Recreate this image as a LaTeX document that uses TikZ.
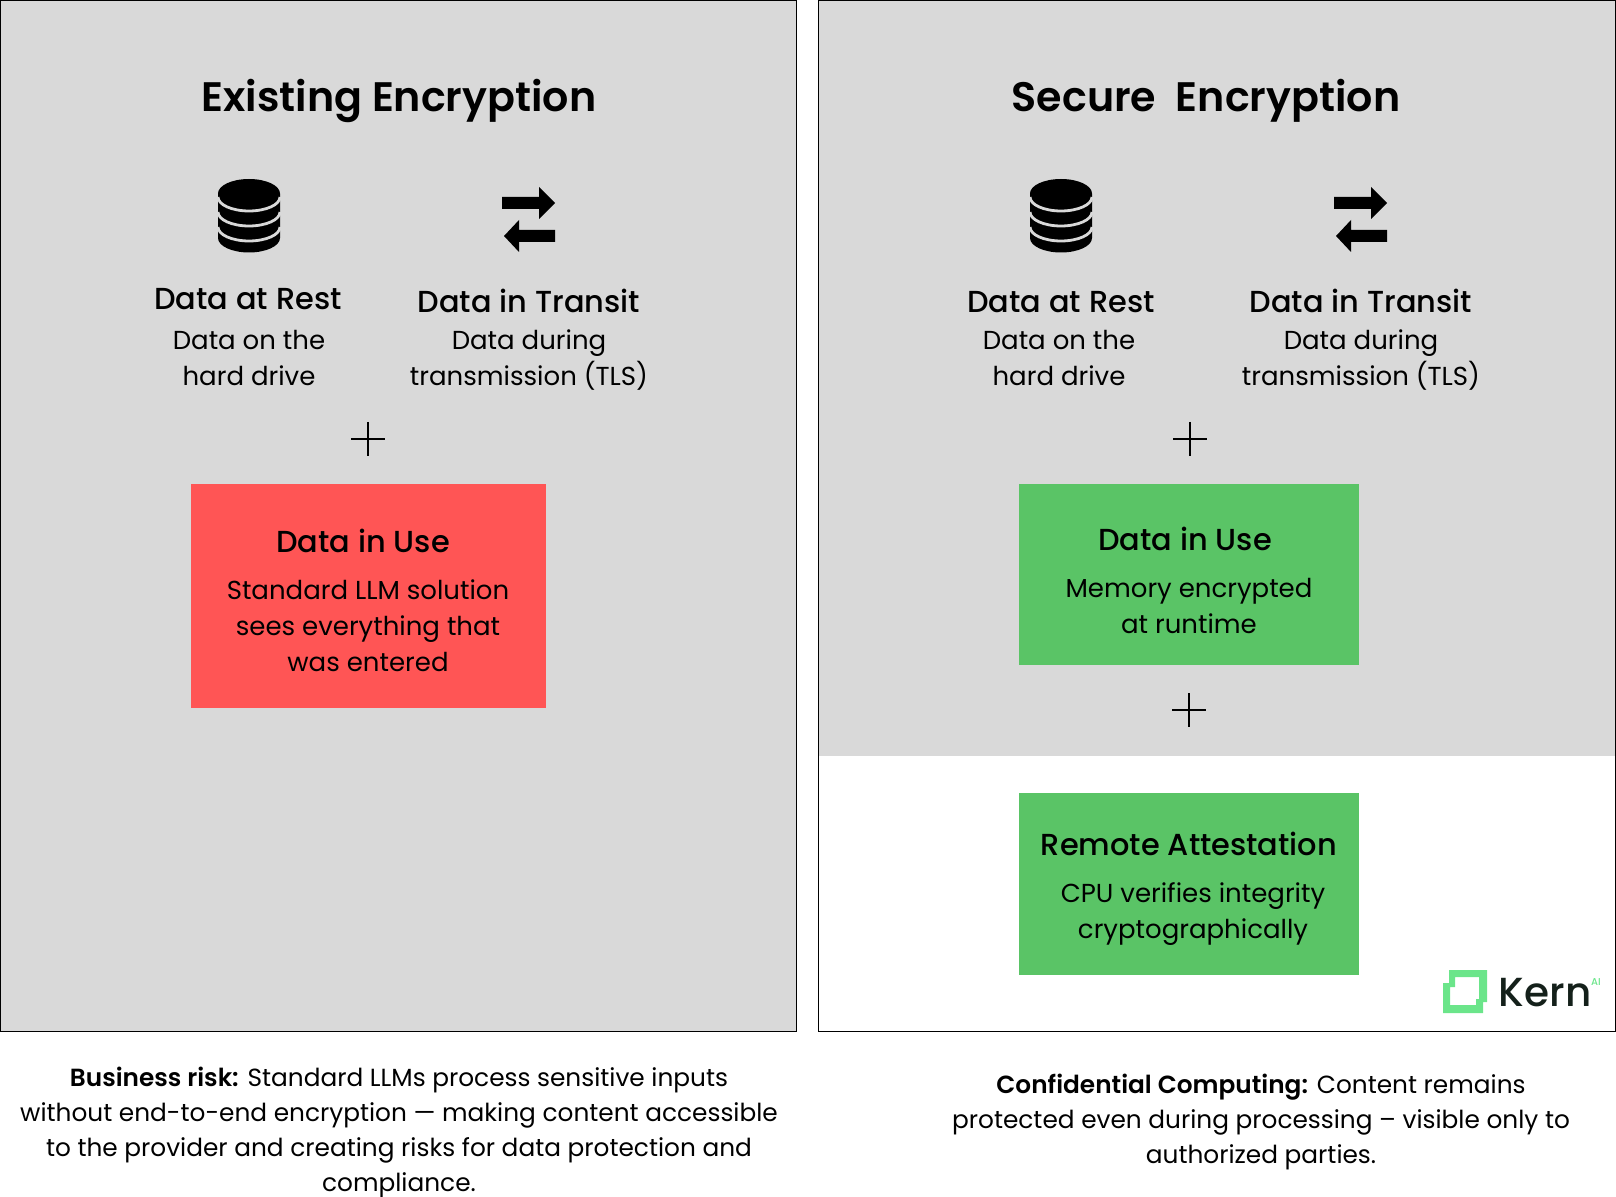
\documentclass[tikz,border=0pt]{standalone}
\usepackage{fontspec}
\setmainfont[BoldFont={Poppins SemiBold}]{Poppins}
\newfontfamily\medfont{Poppins Medium}
\usetikzlibrary{positioning}
\definecolor{panelgray}{HTML}{D9D9D9}
\definecolor{riskred}{HTML}{FF5555}
\definecolor{safegreen}{HTML}{5AC466}
\definecolor{kerngreen}{HTML}{6BE58A}
\definecolor{kerndark}{HTML}{14201A}
\begin{document}
\begin{tikzpicture}[x=0.5pt, y=-0.5pt,
        ttl/.style={font=\fontsize{20.6}{24}\selectfont\bfseries, text=black},
        hdr/.style={font=\fontsize{15.2}{18}\selectfont\medfont, align=center},
        sub/.style={font=\fontsize{13}{18}\selectfont, align=center},
        note/.style={font=\fontsize{12.4}{17.5}\selectfont, align=center},
        box/.style={draw=none, inner sep=0},
        dbicon/.pic={
            \fill[black] (-31,-21) -- (31,-21) -- (31,23) arc (0:180:31 and 14.5) -- cycle;
            \fill[black] (0,-21.5) ellipse (31 and 14.5);
            \foreach \k in {0,1,2}{\draw[panelgray, line width=1.4pt] (-31,-18+15*\k) arc (180:0:31 and 14);}
        },
        swapicon/.pic={
            \fill[black] (0,-6) -- (37,-6) -- (37,-16) -- (53,0) -- (37,16) -- (37,6) -- (0,6) -- cycle;
            \fill[black] (53,27) -- (17,27) -- (17,17) -- (2,33) -- (17,49) -- (17,39) -- (53,39) -- cycle;
        },
        plusmark/.style={line width=0.75pt}]
    \useasboundingbox (0,0) rectangle (1616,1197);
    % panels
    \fill[panelgray] (0.5,0.5) rectangle (796.5,1031);
    \draw[black, line width=0.5pt] (0.5,0.5) rectangle (796.5,1031);
    \fill[panelgray] (818.5,0.5) rectangle (1615.5,756);
    \draw[black, line width=0.5pt] (818.5,0.5) rectangle (1615.5,1031);
    % left panel
    \node[ttl] (leftTitle) at (399,101) {Existing Encryption};
    \pic at (249,215) {dbicon};
    \pic at (502,203) {swapicon};
    \node[hdr] (leftRest) at (248,299) {Data at Rest};
    \node[sub] (leftRestSub) at (249,358) {Data on the\\hard drive};
    \node[hdr] (leftTransit) at (529,301) {Data in Transit};
    \node[sub] (leftTransitSub) at (529,360) {Data during\\transmission (TLS)};
    \draw[plusmark] (351,439) -- (385,439) (368,422) -- (368,456);
    \node[box, fill=riskred, minimum width=177.5pt, minimum height=112pt] (leftUse) at (368.5,596) {};
    \node[hdr] (leftUseHdr) at (363,541) {Data in Use};
    \node[sub] (leftUseSub) at (368,626) {Standard LLM solution\\sees everything that\\was entered};
    % right panel
    \node[ttl] (rightTitle) at (1206,101) {Secure\ \ Encryption};
    \pic at (1061,215) {dbicon};
    \pic at (1334,203) {swapicon};
    \node[hdr] (rightRest) at (1061,302) {Data at Rest};
    \node[sub] (rightRestSub) at (1059,358) {Data on the\\hard drive};
    \node[hdr] (rightTransit) at (1361,301) {Data in Transit};
    \node[sub] (rightTransitSub) at (1361,360) {Data during\\transmission (TLS)};
    \draw[plusmark] (1173,439) -- (1207,439) (1190,422) -- (1190,456);
    \node[box, fill=safegreen, minimum width=170pt, minimum height=90pt] (rightUse) at (1189,574.5) {};
    \node[hdr] (rightUseHdr) at (1185,539) {Data in Use};
    \node[sub] (rightUseSub) at (1189,606) {Memory encrypted\\at runtime};
    \draw[plusmark] (1172,710) -- (1206,710) (1189,693) -- (1189,727);
    \node[box, fill=safegreen, minimum width=170pt, minimum height=91pt] (rightAtt) at (1189,884) {};
    \node[hdr] (rightAttHdr) at (1189,844) {Remote Attestation};
    \node[sub] (rightAttSub) at (1193,914) {CPU verifies integrity\\cryptographically};
    % logo
    \fill[kerngreen, even odd rule] (1449,970) -- (1487,970) -- (1487,1002) -- (1483,1002) -- (1483,1013) -- (1443,1013) -- (1443,983) -- (1449,983) -- cycle
        (1455,977) -- (1479,977) -- (1479,999) -- (1476,999) -- (1476,1005) -- (1450,1005) -- (1450,987) -- (1455,987) -- cycle;
    \node[inner sep=0, font=\fontsize{20.3}{24}\selectfont\medfont, text=kerndark] (kernWord) at (1545,993) {Kern};
    \node[inner sep=0, font=\fontsize{5}{6}\selectfont\medfont, text=kerngreen] (kernAi) at (1596,982) {AI};
    % captions
    \node[note] (leftCap) at (399,1132) {\textbf{Business risk:} Standard LLMs process sensitive inputs\\without end-to-end encryption — making content accessible\\to the provider and creating risks for data protection and\\compliance.};
    \node[note] (rightCap) at (1261,1122) {\textbf{Confidential Computing:} Content remains\\protected even during processing – visible only to\\authorized parties.};
\end{tikzpicture}
\end{document}
